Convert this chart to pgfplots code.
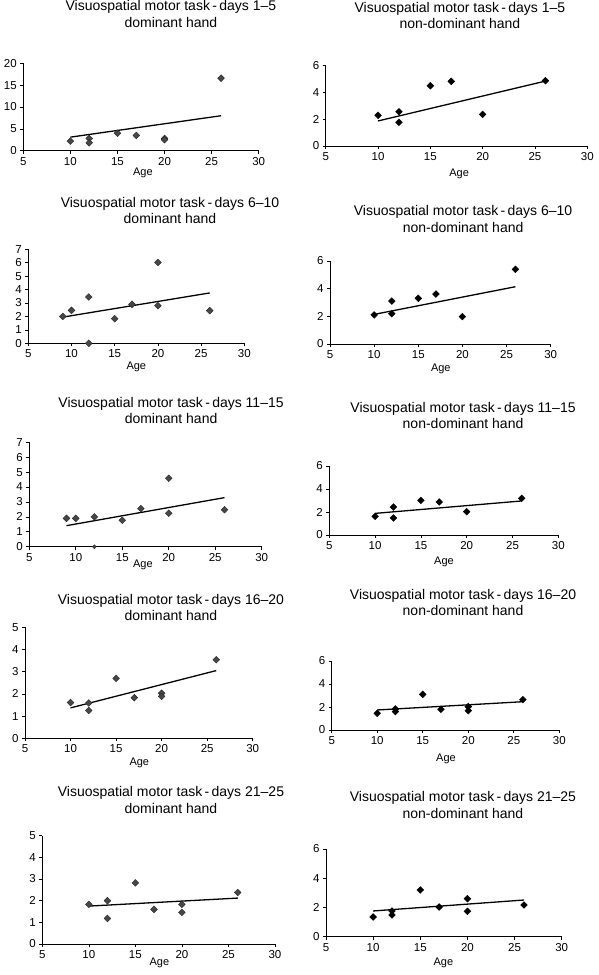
\documentclass[border=0pt]{standalone}
\usepackage{fontspec}
\setmainfont{Liberation Sans}
\usepackage{pgfplots}
\pgfplotsset{compat=1.18}
\newcommand{\ttl}[2]{Visuospatial motor task\,-\,days #1\\#2}
\pgfplotsset{
  panel/.style={scale only axis, anchor=south west, clip=false,
    xmin=5, xmax=30, ymin=0,
    axis x line*=bottom, axis y line*=left,
    xtick={5,10,...,30},
    tick align=outside, major tick length=3pt,
    tick style={black, line width=0.6pt},
    axis line style={black, line width=0.6pt},
    ticklabel style={font=\fontsize{11.5}{12}\selectfont},
    /pgf/number format/assume math mode=true,
    xlabel=Age,
    xlabel style={anchor=center, font=\fontsize{11}{12}\selectfont},
    title style={anchor=center, align=center, font=\fontsize{14}{16.5}\selectfont},
  },
  ptsL/.style={only marks, mark=square*, mark size=2.4pt,
    mark options={rotate=45, fill=black!72, draw=black!85, line width=0.4pt}},
  ptsR/.style={only marks, mark=square*, mark size=2.4pt,
    mark options={rotate=45, fill=black, draw=black, line width=0.4pt}},
  fit/.style={no marks, black, line width=1.3pt},
}
\begin{document}
\begin{tikzpicture}
\path[use as bounding box] (0pt,0pt) rectangle (599pt,975pt);

% P1
\begin{axis}[panel, at={(23.3pt,824.3pt)}, width=235.4pt, height=87.4pt, ymax=20, ytick={0,5,...,20},
  title={\ttl{1--5}{dominant hand}},
  title style={at={(axis description cs:0.627,1.495)}},
  xlabel style={at={(axis description cs:0.508,-0.255)}}]
\addplot[ptsL] coordinates {(10,2.2) (12,2.8) (12,1.8) (15,4.0) (17,3.5) (20,2.8) (20,2.5) (26,16.6)};
\addplot[fit] coordinates {(10,3.1) (26,8.0)};
\end{axis}

% P2
\begin{axis}[panel, at={(325.7pt,829pt)}, width=261.6pt, height=80.3pt, ymax=6, ytick={0,2,4,6},
  title={\ttl{1--5}{non-dominant hand}},
  title style={at={(axis description cs:0.513,1.55)}},
  xlabel style={at={(axis description cs:0.51,-0.349)}}]
\addplot[ptsR] coordinates {(10,2.29) (12,2.56) (12,1.77) (15,4.5) (17,4.83) (20,2.36) (26,4.88)};
\addplot[fit] coordinates {(10,1.87) (26,4.85)};
\end{axis}

% P3
\begin{axis}[panel, at={(28.3pt,631.7pt)}, width=216pt, height=94pt, ymax=7, ytick={0,1,...,7},
  title={\ttl{6--10}{dominant hand}},
  title style={at={(axis description cs:0.656,1.349)}},
  xlabel style={at={(axis description cs:0.5,-0.252)}}]
\addplot[ptsL] coordinates {(9,2.0) (10,2.45) (12,3.45) (12,0) (15,1.83) (17,2.9) (20,6.02) (20,2.8) (26,2.43)};
\addplot[fit] coordinates {(9,1.95) (26,3.75)};
\end{axis}

% P4
\begin{axis}[panel, at={(330pt,631pt)}, width=220.7pt, height=83pt, ymax=6, ytick={0,2,4,6},
  title={\ttl{6--10}{non-dominant hand}},
  title style={at={(axis description cs:0.603,1.434)}},
  xlabel style={at={(axis description cs:0.502,-0.301)}}]
\addplot[ptsR] coordinates {(10,2.1) (12,3.1) (12,2.19) (15,3.3) (17,3.61) (20,1.98) (26,5.4)};
\addplot[fit] coordinates {(10,2.14) (26,4.14)};
\end{axis}

% P5
\begin{axis}[panel, at={(29.3pt,428.3pt)}, width=232.4pt, height=104.4pt, ymax=7, ytick={0,1,...,7},
  title={\ttl{11--15}{dominant hand}},
  title style={at={(axis description cs:0.61,1.247)}},
  xlabel style={at={(axis description cs:0.489,-0.175)}}]
\addplot[ptsL] coordinates {(9,1.9) (10,1.9) (12,2.0) (15,1.77) (17,2.55) (20,4.59) (20,2.24) (26,2.48)};
\addplot[ptsL, mark size=1.4pt] coordinates {(12,0)};
\addplot[fit] coordinates {(9,1.41) (26,3.29)};
\end{axis}

% P6
\begin{axis}[panel, at={(329.3pt,440pt)}, width=229pt, height=69pt, ymax=6, ytick={0,2,4,6},
  title={\ttl{11--15}{non-dominant hand}},
  title style={at={(axis description cs:0.584,1.645)}},
  xlabel style={at={(axis description cs:0.501,-0.391)}}]
\addplot[ptsR] coordinates {(10,1.62) (12,2.43) (12,1.48) (15,3.01) (17,2.87) (20,2.03) (26,3.19)};
\addplot[fit] coordinates {(10,1.88) (26,2.96)};
\end{axis}

% P7
\begin{axis}[panel, at={(25pt,236.7pt)}, width=227.7pt, height=111pt, ymax=5, ytick={0,1,...,5},
  title={\ttl{16--20}{dominant hand}},
  title style={at={(axis description cs:0.641,1.124)}},
  xlabel style={at={(axis description cs:0.502,-0.222)}}]
\addplot[ptsL] coordinates {(10,1.61) (12,1.59) (12,1.25) (15,2.70) (17,1.83) (20,2.03) (20,1.89) (26,3.54)};
\addplot[fit] coordinates {(10,1.37) (26,3.05)};
\end{axis}

% P8
\begin{axis}[panel, at={(331.7pt,245pt)}, width=227.6pt, height=69pt, ymax=6, ytick={0,2,4,6},
  title={\ttl{16--20}{non-dominant hand}},
  title style={at={(axis description cs:0.577,1.761)}},
  xlabel style={at={(axis description cs:0.502,-0.42)}}]
\addplot[ptsR] coordinates {(10,1.45) (12,1.83) (12,1.6) (15,3.1) (17,1.8) (20,2.03) (20,1.68) (26,2.64)};
\addplot[fit] coordinates {(10,1.74) (26,2.46)};
\end{axis}

% P9
\begin{axis}[panel, at={(42.3pt,31pt)}, width=232.7pt, height=108.3pt, ymax=5, ytick={0,1,...,5},
  title={\ttl{21--25}{dominant hand}},
  title style={at={(axis description cs:0.553,1.274)}},
  xlabel style={at={(axis description cs:0.503,-0.173)}}]
\addplot[ptsL] coordinates {(10,1.83) (12,2.0) (12,1.18) (15,2.82) (17,1.6) (20,1.83) (20,1.46) (26,2.38)};
\addplot[fit] coordinates {(10,1.75) (26,2.12)};
\end{axis}

% P10
\begin{axis}[panel, at={(326pt,38.3pt)}, width=235.7pt, height=87.7pt, ymax=6, ytick={0,2,4,6},
  title={\ttl{21--25}{non-dominant hand}},
  title style={at={(axis description cs:0.581,1.433)}},
  xlabel style={at={(axis description cs:0.498,-0.3)}}]
\addplot[ptsR] coordinates {(10,1.35) (12,1.76) (12,1.48) (15,3.2) (17,2.03) (20,2.6) (20,1.74) (26,2.17)};
\addplot[fit] coordinates {(10,1.76) (26,2.51)};
\end{axis}
\end{tikzpicture}
\end{document}
